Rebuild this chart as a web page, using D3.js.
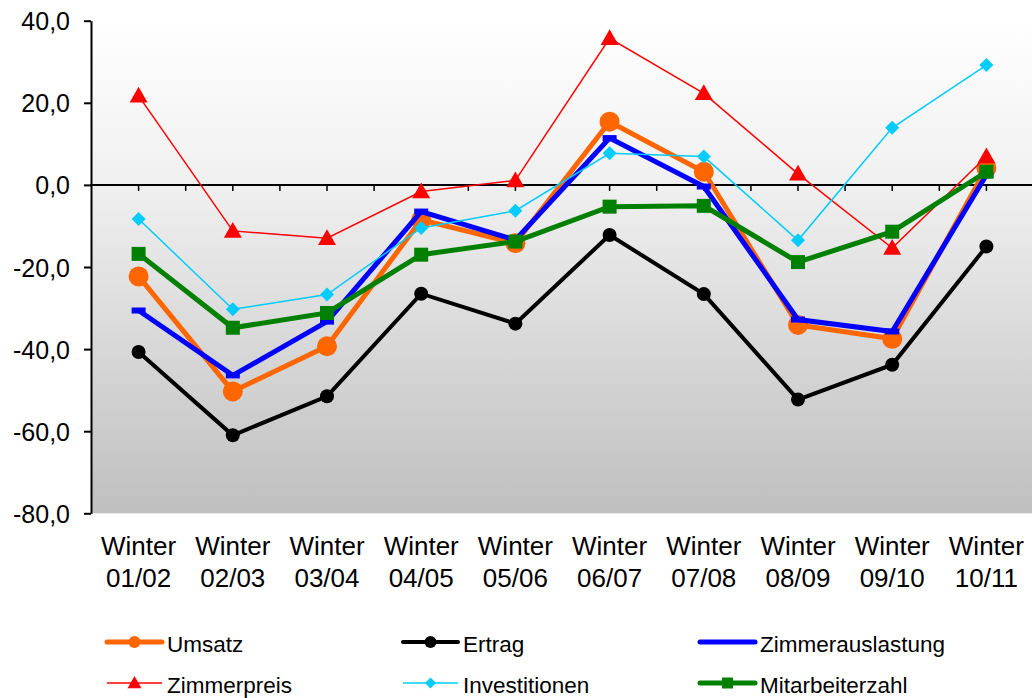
<!DOCTYPE html>
<html>
<head>
<meta charset="utf-8">
<script src="https://cdn.jsdelivr.net/npm/d3@7"></script>
<style>
  html, body { margin: 0; padding: 0; background: #ffffff; }
  svg { display: block; font-family: "Liberation Sans", Arial, sans-serif; }
</style>
</head>
<body>
<svg id="chart" width="1032" height="698"></svg>
<script>
const categories = ["Winter 01/02", "Winter 02/03", "Winter 03/04", "Winter 04/05", "Winter 05/06",
                    "Winter 06/07", "Winter 07/08", "Winter 08/09", "Winter 09/10", "Winter 10/11"];
const yTicks = [-80, -60, -40, -20, 0, 20, 40];
const seriesNames = ["Umsatz", "Ertrag", "Zimmerauslastung", "Zimmerpreis", "Investitionen", "Mitarbeiterzahl"];
const umsatz = [-22.3, -50.3, -39.3, -8.5, -14.2, 15.4, 3.2, -34.1, -37.5, 4.1];
const ertrag = [-40.7, -61.0, -51.5, -26.5, -33.8, -12.2, -26.6, -52.3, -43.8, -15.0];
const zimmerauslastung = [-30.6, -46.4, -33.3, -6.5, -13.4, 11.4, -0.4, -32.8, -35.7, 2.4];
const zimmerpreis = [21.7, -11.2, -13.0, -1.6, 1.1, 35.7, 22.3, 2.7, -15.4, 6.9];
const investitionen = [-8.3, -30.3, -26.7, -10.5, -6.3, 7.7, 6.9, -13.5, 13.9, 29.2];
const mitarbeiterzahl = [-16.8, -34.8, -31.2, -17.0, -13.8, -5.3, -5.1, -18.8, -11.4, 3.2];

const seriesValues = [umsatz, ertrag, zimmerauslastung, zimmerpreis, investitionen, mitarbeiterzahl];
const styles = [
  { color: "#ff6600", width: 5,   marker: "circle",  size: 10, lsize: 6 },
  { color: "#000000", width: 4,   marker: "circle",  size: 7,  lsize: 6 },
  { color: "#0000ff", width: 5,   marker: "dash",    size: 7,  lsize: 0 },
  { color: "#ff0000", width: 1.5, marker: "triangle",size: 9,  lsize: 7 },
  { color: "#00ccff", width: 1.5, marker: "diamond", size: 7,  lsize: 5.5 },
  { color: "#008000", width: 5,   marker: "square",  size: 7,  lsize: 5.5 }
];

const svg = d3.select("#chart");
const plotLeft = 91.5, plotRight = 1033.5, plotTop = 20.7, plotBottom = 513.3;

const x = d3.scaleBand().domain(categories).range([plotLeft, plotRight]);
const y = d3.scaleLinear().domain([-80, 40]).range([plotBottom, plotTop]);

// gradient background
const defs = svg.append("defs");
const grad = defs.append("linearGradient").attr("id", "bg").attr("x1", 0).attr("y1", 0).attr("x2", 0).attr("y2", 1);
grad.append("stop").attr("offset", "0").attr("stop-color", "#ffffff");
grad.append("stop").attr("offset", "0.33").attr("stop-color", "#f0f0f0");
grad.append("stop").attr("offset", "1").attr("stop-color", "#bfbfbf");

svg.append("rect")
  .attr("x", plotLeft).attr("y", plotTop)
  .attr("width", 1032 - plotLeft).attr("height", plotBottom - plotTop)
  .attr("fill", "url(#bg)");

// Y axis
const yAxis = d3.axisLeft(y).tickValues(yTicks).tickSize(7).tickSizeOuter(0).tickPadding(14)
  .tickFormat(d => d3.format(".1f")(d).replace(".", ",").replace("\u2212", "-"));
const gy = svg.append("g").attr("transform", `translate(${plotLeft - 0.5},0)`).call(yAxis);
gy.select(".domain").attr("stroke", "#000").attr("stroke-width", 2);
gy.selectAll(".tick line").attr("stroke", "#000").attr("stroke-width", 2);
gy.selectAll(".tick text").attr("fill", "#000").attr("font-size", "25px")
  .attr("font-family", "Liberation Sans, Arial, sans-serif").attr("dy", "0.36em");

// X axis at zero line with ticks at centers and boundaries
const zeroY = y(0);
svg.append("line").attr("x1", plotLeft - 1).attr("x2", 1032).attr("y1", zeroY).attr("y2", zeroY)
  .attr("stroke", "#000").attr("stroke-width", 2);
const tickXs = [];
categories.forEach(c => { tickXs.push(x(c)); tickXs.push(x(c) + x.bandwidth() / 2); });
svg.append("g").selectAll("line").data(tickXs.filter(t => t > plotLeft + 2 && t < 1032)).join("line")
  .attr("x1", d => d).attr("x2", d => d).attr("y1", zeroY).attr("y2", zeroY + 6)
  .attr("stroke", "#000").attr("stroke-width", 1.5);

// X labels
const xl = svg.append("g");
categories.forEach(c => {
  const parts = c.split(" ");
  const cxx = x(c) + x.bandwidth() / 2;
  xl.append("text").attr("x", cxx).attr("y", 555).attr("text-anchor", "middle")
    .attr("font-size", "26px").attr("fill", "#000").text(parts[0]);
  xl.append("text").attr("x", cxx).attr("y", 587).attr("text-anchor", "middle")
    .attr("font-size", "26px").attr("fill", "#000").text(parts[1]);
});

function drawMarker(g, type, mx, my, s, color) {
  if (type === "circle") {
    g.append("circle").attr("cx", mx).attr("cy", my).attr("r", s).attr("fill", color);
  } else if (type === "square") {
    g.append("rect").attr("x", mx - s).attr("y", my - s).attr("width", 2 * s).attr("height", 2 * s).attr("fill", color);
  } else if (type === "diamond") {
    g.append("path").attr("d", `M${mx},${my - s}L${mx + s},${my}L${mx},${my + s}L${mx - s},${my}Z`).attr("fill", color);
  } else if (type === "triangle") {
    g.append("path").attr("d", `M${mx},${my - s}L${mx + s},${my + s * 0.75}L${mx - s},${my + s * 0.75}Z`).attr("fill", color);
  } else if (type === "dash") {
    g.append("rect").attr("x", mx - s).attr("y", my - 3).attr("width", 2 * s).attr("height", 6).attr("fill", color);
  }
}

const cx = c => x(c) + x.bandwidth() / 2;
const line = d3.line().x((d, i) => cx(categories[i])).y(d => y(d));

seriesValues.forEach((vals, si) => {
  const st = styles[si];
  const g = svg.append("g");
  g.append("path").attr("d", line(vals)).attr("fill", "none")
    .attr("stroke", st.color).attr("stroke-width", st.width).attr("stroke-linejoin", "miter");
  vals.forEach((v, i) => drawMarker(g, st.marker, cx(categories[i]), y(v), st.size, st.color));
});

// Legend
const legendCols = [107, 403, 700];
const legendRows = [642, 683];
seriesNames.forEach((name, i) => {
  const st = styles[i];
  const lx = legendCols[i % 3];
  const ly = legendRows[Math.floor(i / 3)];
  const g = svg.append("g");
  g.append("line").attr("x1", lx).attr("x2", lx + 55).attr("y1", ly).attr("y2", ly)
    .attr("stroke", st.color).attr("stroke-width", st.width).attr("stroke-linecap", st.width > 2 ? "round" : "butt");
  if (st.lsize > 0) drawMarker(g, st.marker, lx + 27.5, ly, st.lsize, st.color);
  g.append("text").attr("x", lx + 60).attr("y", ly + 10).attr("font-size", "22.5px").attr("fill", "#000").text(name);
});
</script>
</body>
</html>
